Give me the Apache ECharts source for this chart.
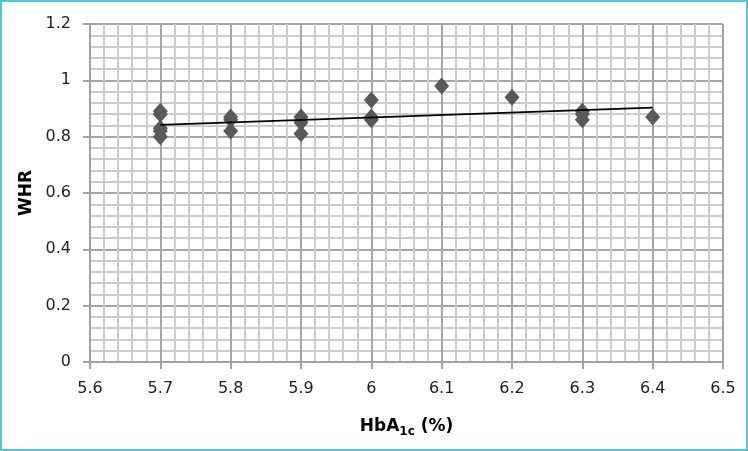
<!DOCTYPE html>
<html><head><meta charset="utf-8">
<script src="https://cdn.jsdelivr.net/npm/echarts@6/dist/echarts.min.js"></script>
<style>html,body{margin:0;padding:0;background:#fff}#c{width:748px;height:451px}</style>
</head><body><div id="c"></div>
<script>
// HbA1c (%) values and matching WHR values
const hba1c = [5.7,5.7,5.7,5.7,5.7, 5.8,5.8,5.8, 5.9,5.9,5.9, 6.0,6.0,6.0, 6.1, 6.2, 6.3,6.3,6.3, 6.4];
const whr   = [0.89,0.88,0.83,0.82,0.80, 0.87,0.86,0.82, 0.87,0.85,0.81, 0.93,0.87,0.86, 0.98, 0.94, 0.89,0.88,0.86, 0.87];
// linear trendline endpoints
const trendX = [5.7, 6.4];
const trendY = [0.842, 0.903];
const xTicks = [5.6,5.7,5.8,5.9,6.0,6.1,6.2,6.3,6.4,6.5];
const yTicks = [0,0.2,0.4,0.6,0.8,1.0,1.2];

const pts = hba1c.map((x,i)=>[x, whr[i]]);
const trend = trendX.map((x,i)=>[x, trendY[i]]);
const font = 'DejaVu Sans';
const chart = echarts.init(document.getElementById('c'), null, {renderer:'canvas'});
chart.setOption({
  animation:false,
  backgroundColor:'#fff',
  graphic:[{type:'rect', shape:{x:1,y:1,width:746,height:449}, style:{fill:'none', stroke:'#5bc3d3', lineWidth:2}, z:100}],
  grid:{left:90, right:25, top:24, bottom:89},
  xAxis:{
    type:'value', min:5.6, max:6.5, interval:0.1,
    name:'{a|HbA}{s|1c}{a| (%)}', nameLocation:'middle', nameGap:54,
    nameTextStyle:{rich:{a:{fontFamily:font,fontWeight:'bold',fontSize:17,color:'#000'}, s:{fontFamily:font,fontWeight:'bold',fontSize:12,color:'#000',verticalAlign:'bottom',padding:[10,0,0,0]}}},
    axisLine:{show:true, onZero:false, lineStyle:{color:'#a3a3a3', width:2}},
    axisTick:{show:true, length:7, lineStyle:{color:'#a3a3a3', width:2}},
    axisLabel:{fontFamily:font, fontSize:16, color:'#222', margin:19, formatter:v=>String(Math.round(v*10)/10)},
    splitLine:{show:true, lineStyle:{color:'#a6a6a6', width:2}},
    minorTick:{show:false, splitNumber:5},
    minorSplitLine:{show:true, lineStyle:{color:'#cccccc', width:2}}
  },
  yAxis:{
    type:'value', min:0, max:1.2, interval:0.2,
    name:'WHR', nameLocation:'middle', nameGap:53,
    nameTextStyle:{fontFamily:font, fontWeight:'bold', fontSize:17, color:'#000'},
    axisLine:{show:true, lineStyle:{color:'#a3a3a3', width:2}},
    axisTick:{show:true, length:7, lineStyle:{color:'#a3a3a3', width:2}},
    axisLabel:{fontFamily:font, fontSize:16, color:'#222', margin:19, formatter:v=>String(Math.round(v*10)/10)},
    splitLine:{show:true, lineStyle:{color:'#a6a6a6', width:2}},
    minorTick:{show:false, splitNumber:5},
    minorSplitLine:{show:true, lineStyle:{color:'#cccccc', width:2}}
  },
  series:[
    {type:'scatter', data:pts, symbol:'diamond', symbolSize:[15,17], itemStyle:{color:'#595959', opacity:1}, z:3},
    {type:'line', data:trend, showSymbol:false, symbol:'none', lineStyle:{color:'#000', width:1.6}, z:4}
  ]
});
</script></body></html>
